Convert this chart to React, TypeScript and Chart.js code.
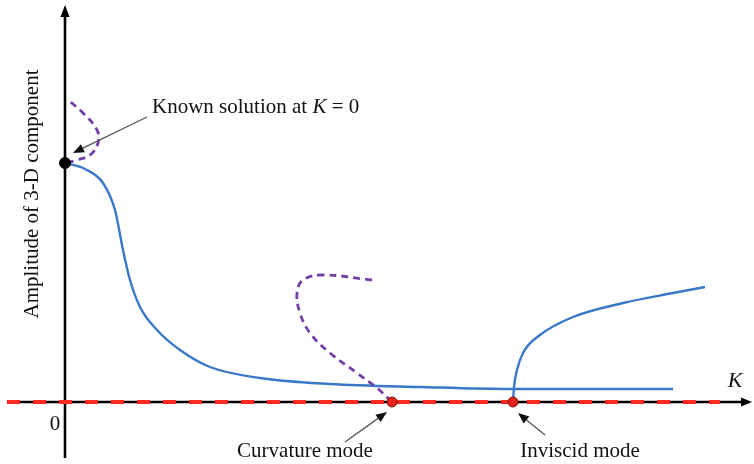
import React, { useEffect, useRef } from "react";
import { Chart, registerables } from "chart.js";

Chart.register(...registerables);

// K (x) and amplitude (y) in schematic units
const mainBranchK = [0, 0.2, 0.38, 0.5, 0.58, 0.65, 0.75, 0.92, 1.15, 1.45, 1.95, 2.65, 3.55, 4.48, 6.08];
const mainBranchA = [2.39, 2.33, 2.19, 1.92, 1.52, 1.22, 0.95, 0.72, 0.52, 0.35, 0.24, 0.18, 0.15, 0.13, 0.13];

const inviscidK = [4.48, 4.49, 4.52, 4.58, 4.75, 5.08, 5.58, 6.08, 6.4];
const inviscidA = [0, 0.15, 0.32, 0.49, 0.67, 0.85, 0.99, 1.09, 1.15];

const dashed1K = [0.02, 0.12, 0.25, 0.33, 0.32, 0.18, 0.02];
const dashed1A = [2.39, 2.42, 2.47, 2.59, 2.72, 2.89, 3.03];

const curvatureK = [3.07, 2.58, 2.38, 2.32, 2.35, 2.45, 2.65, 2.92, 3.12, 3.27];
const curvatureA = [1.22, 1.27, 1.22, 1.09, 0.89, 0.69, 0.49, 0.29, 0.14, 0];

const modeK = [3.27, 4.48];
const modeA = [0, 0];

const knownK = [0];
const knownA = [2.39];

const zeroLineK = [-0.58, 6.55];
const zeroLineA = [0, 0];

const X_MIN = -0.65;
const X_MAX = 6.89;
const Y_MIN = -0.62;
const Y_MAX = 4.02;

const pts = (xs: number[], ys: number[]) => xs.map((x, i) => ({ x, y: ys[i] }));

const SERIF = '"Liberation Serif", "DejaVu Serif", serif';

const overlay = {
  id: "schematic",
  beforeDatasetsDraw(chart: any) {
    const { ctx, scales } = chart;
    const xs = scales.x;
    const ys = scales.y;
    const px = (v: number) => xs.getPixelForValue(v);
    const py = (v: number) => ys.getPixelForValue(v);
    ctx.save();
    ctx.strokeStyle = "#000";
    ctx.fillStyle = "#000";
    ctx.lineWidth = 2.6;
    // y axis
    const x0 = px(0);
    ctx.beginPath();
    ctx.moveTo(x0, py(-0.56));
    ctx.lineTo(x0, py(3.85));
    ctx.stroke();
    ctx.beginPath();
    ctx.moveTo(x0, py(3.97));
    ctx.lineTo(x0 - 4.5, py(3.85));
    ctx.lineTo(x0 + 4.5, py(3.85));
    ctx.closePath();
    ctx.fill();
    // x axis
    const y0 = py(0);
    ctx.beginPath();
    ctx.moveTo(px(-0.58), y0);
    ctx.lineTo(px(6.78), y0);
    ctx.stroke();
    ctx.beginPath();
    ctx.moveTo(px(6.87), y0);
    ctx.lineTo(px(6.76), y0 - 4.5);
    ctx.lineTo(px(6.76), y0 + 4.5);
    ctx.closePath();
    ctx.fill();
    ctx.restore();
  },
  afterDatasetsDraw(chart: any) {
    const { ctx, scales } = chart;
    const xs = scales.x;
    const ys = scales.y;
    const px = (v: number) => xs.getPixelForValue(v);
    const py = (v: number) => ys.getPixelForValue(v);
    ctx.save();

    const arrow = (k1: number, a1: number, k2: number, a2: number) => {
      const x1 = px(k1), y1 = py(a1), x2 = px(k2), y2 = py(a2);
      const ang = Math.atan2(y2 - y1, x2 - x1);
      const hl = 11, hw = 4.5;
      const bx = x2 - hl * Math.cos(ang), by = y2 - hl * Math.sin(ang);
      ctx.strokeStyle = "#555";
      ctx.lineWidth = 1.3;
      ctx.beginPath();
      ctx.moveTo(x1, y1);
      ctx.lineTo(bx, by);
      ctx.stroke();
      ctx.fillStyle = "#111";
      ctx.beginPath();
      ctx.moveTo(x2, y2);
      ctx.lineTo(bx + hw * Math.sin(ang), by - hw * Math.cos(ang));
      ctx.lineTo(bx - hw * Math.sin(ang), by + hw * Math.cos(ang));
      ctx.closePath();
      ctx.fill();
    };
    arrow(0.82, 2.85, 0.08, 2.49);
    arrow(2.8, -0.4, 3.22, -0.1);
    arrow(4.8, -0.33, 4.53, -0.11);

    ctx.fillStyle = "#111";
    ctx.textBaseline = "alphabetic";
    // Known solution label with italic K
    const fs = 21;
    const normal = `${fs}px ${SERIF}`;
    const italic = `italic ${fs}px ${SERIF}`;
    let tx = px(0.87);
    const tyb = py(2.89);
    const parts: [string, string][] = [["Known solution at ", normal], ["K", italic], [" = 0", normal]];
    ctx.textAlign = "left";
    for (const [s, f] of parts) {
      ctx.font = f;
      ctx.fillText(s, tx, tyb);
      tx += ctx.measureText(s).width;
    }

    ctx.font = normal;
    ctx.textAlign = "center";
    ctx.fillText("Curvature mode", px(2.4), py(-0.55));
    ctx.fillText("Inviscid mode", px(5.8 - 0.65), py(-0.55));
    ctx.fillText("0", px(-0.1), py(-0.28));

    ctx.font = `italic 22px ${SERIF}`;
    ctx.fillText("K", px(6.7), py(0.15));

    // y axis title
    ctx.font = normal;
    ctx.translate(px(-0.33), py(2.08));
    ctx.rotate(-Math.PI / 2);
    ctx.textBaseline = "middle";
    ctx.fillText("Amplitude of 3-D component", 0, 0);
    ctx.restore();
  },
};

export default function App() {
  const ref = useRef<HTMLCanvasElement | null>(null);
  useEffect(() => {
    if (!ref.current) return;
    const chart = new Chart(ref.current, {
      type: "scatter",
      data: {
        datasets: [
          {
            label: "known",
            data: pts(knownK, knownA),
            pointRadius: 5.5,
            pointBackgroundColor: "#000",
            pointBorderColor: "#000",
            showLine: false,
            order: 0,
          },
          {
            label: "modes",
            data: pts(modeK, modeA),
            pointRadius: 5,
            pointBackgroundColor: "#e8231b",
            pointBorderColor: "#7a1a10",
            pointBorderWidth: 1,
            showLine: false,
            order: 1,
          },
          {
            label: "zero",
            data: pts(zeroLineK, zeroLineA),
            showLine: true,
            borderColor: "#ff2a1f",
            borderWidth: 4,
            borderDash: [13, 13],
            pointRadius: 0,
            order: 2,
          },
          {
            label: "curvature",
            data: pts(curvatureK, curvatureA),
            showLine: true,
            borderColor: "#7340a8",
            borderWidth: 2.8,
            borderDash: [7, 5],
            tension: 0.4,
            pointRadius: 0,
            order: 3,
          },
          {
            label: "dashed1",
            data: pts(dashed1K, dashed1A),
            showLine: true,
            borderColor: "#7340a8",
            borderWidth: 2.8,
            borderDash: [7, 5],
            tension: 0.4,
            pointRadius: 0,
            order: 4,
          },
          {
            label: "inviscid",
            data: pts(inviscidK, inviscidA),
            showLine: true,
            borderColor: "#3a78c9",
            borderWidth: 2.4,
            cubicInterpolationMode: "monotone",
            pointRadius: 0,
            order: 5,
          },
          {
            label: "main",
            data: pts(mainBranchK, mainBranchA),
            showLine: true,
            borderColor: "#3a78c9",
            borderWidth: 2.4,
            cubicInterpolationMode: "monotone",
            pointRadius: 0,
            order: 6,
          },
        ],
      },
      options: {
        animation: false,
        responsive: false,
        maintainAspectRatio: false,
        layout: { padding: 0, autoPadding: false },
        plugins: { legend: { display: false }, tooltip: { enabled: false } },
        scales: {
          x: { type: "linear", min: X_MIN, max: X_MAX, display: false },
          y: { type: "linear", min: Y_MIN, max: Y_MAX, display: false },
        },
      },
      plugins: [overlay],
    });
    return () => chart.destroy();
  }, []);
  return (
    <div style={{ position: "fixed", left: 0, top: 0, width: 754, height: 464, background: "#fff" }}>
      <canvas ref={ref} width={754} height={464} style={{ display: "block" }} />
    </div>
  );
}
